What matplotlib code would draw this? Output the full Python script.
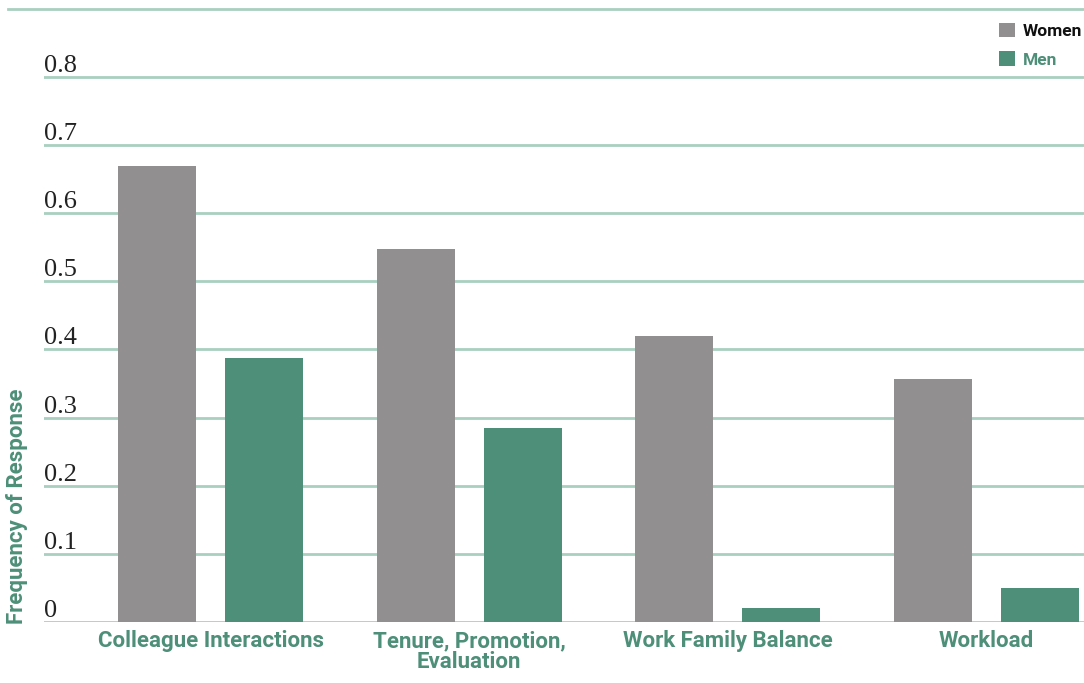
import matplotlib.pyplot as plt
import numpy as np

# Chart data
categories = ["Colleague Interactions", "Tenure, Promotion,\nEvaluation",
              "Work Family Balance", "Workload"]
women = [0.67, 0.547, 0.42, 0.356]
men = [0.388, 0.284, 0.02, 0.049]
yticks = [0, 0.1, 0.2, 0.3, 0.4, 0.5, 0.6, 0.7, 0.8]
ytick_labels = ["0", "0.1", "0.2", "0.3", "0.4", "0.5", "0.6", "0.7", "0.8"]

colors = {
    'women': '#918f90',
    'men': '#4d8f78',
    'grid': '#a9cfc1',
    'label': '#4d8f78',
}
sans = ['Roboto', 'DejaVu Sans']

fig = plt.figure(figsize=(10.84, 6.83), dpi=100)
ax = fig.add_axes([44 / 1084, 0.0898, 1040 / 1084, 0.9864 - 0.0898])

x = np.arange(len(categories))
width = 0.302
offset = 0.207
ax.bar(x - offset, women, width, color=colors['women'], label="Women", zorder=3)
ax.bar(x + offset, men, width, color=colors['men'], label="Men", zorder=3)

ax.set_xlim(-0.645, 3.378)
ax.set_ylim(0, 0.9)

# gridlines, the top one reaches further left
ax.set_yticks(yticks)
ax.set_yticklabels(ytick_labels)
ax.yaxis.grid(True, color=colors['grid'], linewidth=2.0, zorder=1)
ax.axhline(0.9, xmin=-0.0346, xmax=1, color=colors['grid'], linewidth=2.0,
           clip_on=False, zorder=1)
for s in ax.spines.values():
    s.set_visible(False)

ax.tick_params(axis='y', length=0, pad=0, labelsize=19, labelcolor='#222222')
for lab in ax.get_yticklabels():
    lab.set_horizontalalignment('left')
    lab.set_verticalalignment('bottom')
    lab.set_fontfamily('Liberation Serif')

ax.set_xticks(x)
ax.set_xticklabels(categories, fontsize=16, fontweight='bold', family=sans,
                   color=colors['label'], linespacing=0.95, va='top')
ax.tick_params(axis='x', length=0, pad=6)

fig.text(17 / 1084, 1 - 624 / 683, "Frequency of Response", rotation=90,
         ha='center', va='bottom', fontsize=16, fontweight='bold',
         family=sans, color=colors['label'])

# legend
leg = ax.legend(loc='upper right', bbox_to_anchor=(0.998, 0.978), frameon=False,
                prop={'family': sans, 'weight': 'bold', 'size': 12.5},
                handlelength=0.92, handleheight=0.92, handletextpad=0.45,
                labelspacing=0.7, borderaxespad=0, borderpad=0)
leg.get_texts()[0].set_color('#111111')
leg.get_texts()[1].set_color(colors['label'])

fig.savefig("out.png", dpi=100)
